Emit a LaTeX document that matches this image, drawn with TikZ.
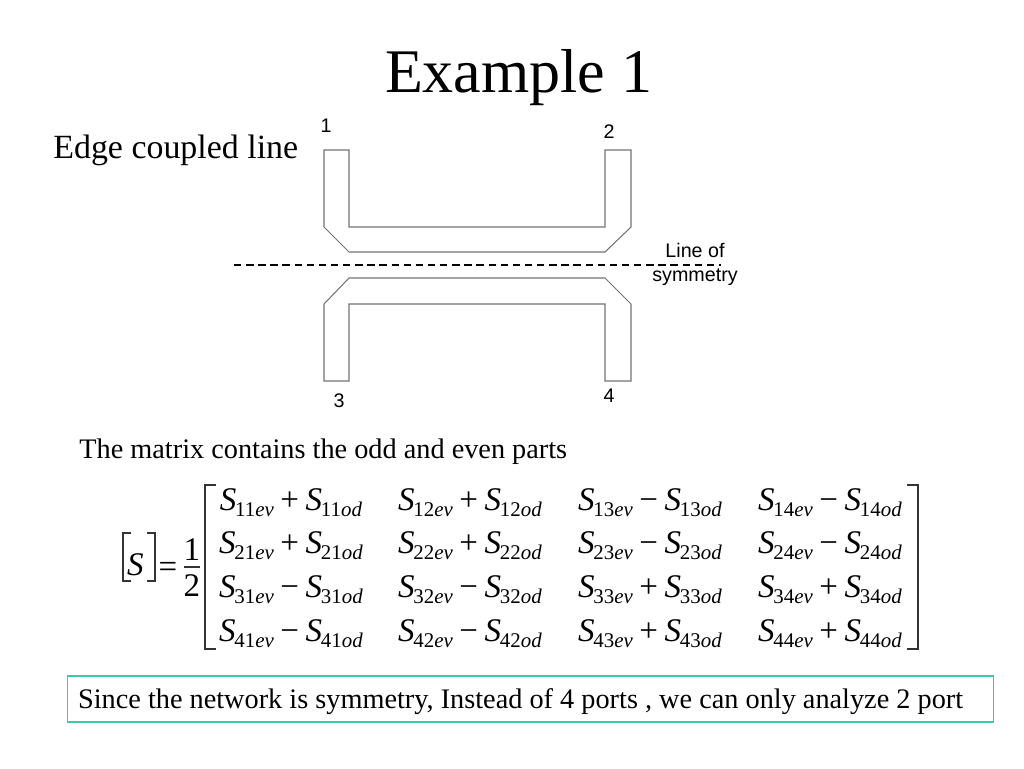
\documentclass[tikz,border=0pt]{standalone}
\usepackage{fontspec}
\setmainfont{Liberation Serif}
\newfontfamily\labelfont{Liberation Sans}
\definecolor{stripgray}{gray}{0.45}
\definecolor{boxteal}{RGB}{64,200,170}
\newcommand{\sterm}[2]{\textit{S}\kern-0.04em\raisebox{-0.2em}{\fontsize{11.9}{12}\selectfont #1\textit{#2}}}
\tikzset{
	headtext/.style={inner sep=0pt, anchor=base, font=\fontsize{35.3}{38}\selectfont},
	bodytext/.style={inner sep=0pt, anchor=base west, font=\fontsize{16.1}{18}\selectfont},
	porttext/.style={inner sep=0pt, align=center, font=\labelfont\fontsize{11.2}{13.9}\selectfont},
	mathtext/.style={inner sep=0pt, anchor=base, font=\fontsize{18.8}{20}\selectfont},
	strip/.style={draw=stripgray, line width=0.6pt, line join=miter},
	bracket/.style={draw=black!80, line width=0.7pt}
}
\begin{document}
\begin{tikzpicture}[x=0.02cm, y=-0.02cm]
	\useasboundingbox (0,0) rectangle (1024,768);
	\node[headtext] (title) at (518.5,92) {Example 1};
	\node[bodytext, font=\fontsize{19.3}{21}\selectfont] (edge) at (53,158) {Edge coupled line};
	\draw[strip] (324,150) -- (349,150) -- (349,227) -- (605,227) -- (605,150) -- (631,150) -- (631,227) -- (605,252) -- (349,252) -- (324,227) -- cycle;
	\draw[strip] (324,381) -- (349,381) -- (349,304) -- (605,304) -- (605,381) -- (631,381) -- (631,304) -- (605,278) -- (349,278) -- (324,304) -- cycle;
	\node[porttext] (port1) at (326,126) {1};
	\node[porttext] (port2) at (609,132) {2};
	\node[porttext] (port3) at (339,401) {3};
	\node[porttext] (port4) at (609,396) {4};
	\coordinate (symleft) at (234,265);
	\coordinate (symright) at (721,265);
	\draw[black, line width=0.6pt, dash pattern=on 4.2pt off 2.7pt] (symleft) -- (symright);
	\node[porttext] (symlabel) at (695,264.5) {Line of\\symmetry};
	\node[bodytext] (parts) at (79,458) {The matrix contains the odd and even parts};
	\node[mathtext] (lhs) at (135.5,575) {\textit{S}};
	\draw[bracket] (131,533) -- (123,533) -- (123,581) -- (131,581);
	\draw[bracket] (147,533) -- (155,533) -- (155,581) -- (147,581);
	\node[mathtext] (eq) at (168,577) {=};
	\node[mathtext] (one) at (192,560) {1};
	\node[mathtext] (two) at (192,596) {2};
	\draw[bracket] (184,567) -- (200,567);
	\draw[bracket] (216,485) -- (205,485) -- (205,649) -- (216,649);
	\draw[bracket] (907,485) -- (918,485) -- (918,649) -- (907,649);
	\foreach \r/\rowy/\opa/\opb in {1/510/+/−, 2/553/+/−, 3/597/−/+, 4/641/−/+}
		\foreach \c/\colx/\op in {1/291/\opa, 2/470/\opa, 3/650/\opb, 4/830/\opb}
			\node[mathtext] (s\r\c) at (\colx,\rowy) {\sterm{\r\c}{ev}\kern0.2em\op\kern0.2em\sterm{\r\c}{od}};
	\node[draw=boxteal, line width=0.6pt, inner sep=0pt, text height=0.64cm, text depth=0.28cm, font=\fontsize{16.1}{18}\selectfont] (note) at (530.5,699) {\makebox[18.54cm][l]{\hspace{0.22cm}Since the network is symmetry, Instead of 4 ports , we can only analyze 2 port}};
\end{tikzpicture}
\end{document}
